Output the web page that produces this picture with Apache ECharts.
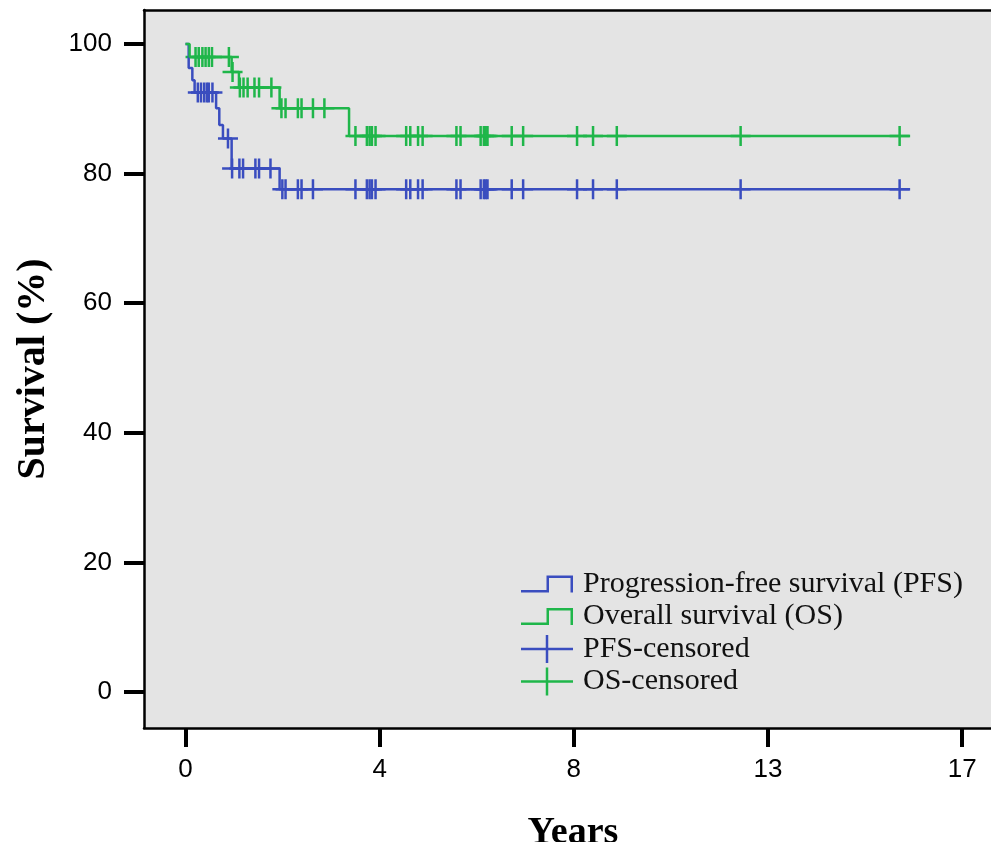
<!DOCTYPE html>
<html>
<head>
<meta charset="utf-8">
<title>Survival</title>
<script src="https://cdn.jsdelivr.net/npm/echarts@6/dist/echarts.min.js"></script>
<style>
  html, body { margin: 0; padding: 0; background: #fff; }
  #chart { width: 991px; height: 842px; }
</style>
</head>
<body>
<div id="chart"></div>
<script>
// Kaplan-Meier steps (years, survival %)
var pfsTimes = [0, 0.07, 0.15, 0.20, 0.67, 0.74, 0.82, 1.01, 2.06];
var pfsSurv  = [100, 96.3, 94.4, 92.5, 90.1, 87.5, 85.4, 80.8, 77.6];
var osTimes  = [0, 0.09, 1.01, 1.17, 2.06, 3.58];
var osSurv   = [100, 98.0, 95.7, 93.3, 90.1, 85.8];
var followUpEnd = 15.86;

// censored patients (years)
var lateCensored = [3.72, 3.97, 4.03, 4.08, 4.16, 4.83, 4.92, 5.09, 5.19, 5.93, 6.02,
                    6.46, 6.53, 6.57, 6.61, 7.14, 7.39, 8.57, 8.92, 9.44, 12.15, 15.63];
var pfsCensored = [0.27, 0.34, 0.41, 0.47, 0.51, 0.59, 0.93, 1.02, 1.18, 1.26, 1.53,
                   1.61, 1.86, 2.12, 2.19, 2.46, 2.54, 2.79].concat(lateCensored);
var osCensored  = [0.22, 0.29, 0.37, 0.44, 0.51, 0.58, 0.95, 1.03, 1.19, 1.27, 1.36,
                   1.51, 1.61, 1.88, 2.10, 2.19, 2.46, 2.54, 2.79, 3.04].concat(lateCensored);

// axis ticks
var xTickValues = [0, 4.25, 8.5, 12.75, 17];
var xTickLabels = ['0', '4', '8', '13', '17'];
var yTickValues = [0, 20, 40, 60, 80, 100];

var blue = '#3a4dbf', green = '#1fb64a';

var plusPath = 'path://M0,8.75L8.75,8.75L8.75,0L11.25,0L11.25,8.75L20,8.75L20,11.25L11.25,11.25L11.25,20L8.75,20L8.75,11.25L0,11.25Z';
var legendPlus = 'path://M0,12.75L24.75,12.75L24.75,0L27.25,0L27.25,12.75L52,12.75L52,15.25L27.25,15.25L27.25,28L24.75,28L24.75,15.25L0,15.25Z';
var legendStep = 'path://M0,14.5L25.5,14.5L25.5,0L52,0L52,17L49.5,17L49.5,2.5L28,2.5L28,17L0,17Z';

function buildSteps(times, surv, end) {
  var pts = [];
  for (var i = 0; i < times.length; i++) pts.push([times[i], surv[i]]);
  pts.push([end, surv[surv.length - 1]]);
  return pts;
}
function levelAt(times, surv, t) {
  var v = surv[0];
  for (var i = 0; i < times.length; i++) if (times[i] <= t) v = surv[i];
  return v;
}
function censorPoints(cens, times, surv) {
  return cens.map(function (t) { return [t, levelAt(times, surv, t)]; });
}

var frameLine = { show: true, onZero: false, lineStyle: { color: '#000', width: 2.5 } };
var sansFont = 'Liberation Sans, Arial, sans-serif';
var serifFont = 'Liberation Serif, Times New Roman, serif';

var chart = echarts.init(document.getElementById('chart'));
var option = {
  animation: false,
  backgroundColor: '#fff',
  grid: {
    left: 144, top: 10, right: 0, height: 718,
    outerBoundsMode: 'none',
    show: true, backgroundColor: '#e4e4e4', borderWidth: 0
  },
  xAxis: [{
    type: 'value', min: -0.908, max: 17.63, position: 'bottom',
    splitLine: { show: false },
    axisLine: frameLine,
    axisTick: { show: true, customValues: xTickValues, length: 19, lineStyle: { color: '#000', width: 4 } },
    axisLabel: {
      customValues: xTickValues, margin: 29, color: '#000', fontSize: 26, fontFamily: sansFont,
      formatter: function (v) { return xTickLabels[xTickValues.indexOf(v)]; }
    },
    name: 'Years', nameLocation: 'middle', nameGap: 86,
    nameTextStyle: { fontFamily: serifFont, fontWeight: 'bold', fontSize: 38, color: '#000', padding: [0, 0, 0, 11] }
  }, {
    type: 'value', min: -0.908, max: 17.63, position: 'top',
    splitLine: { show: false }, axisLine: frameLine,
    axisTick: { show: false }, axisLabel: { show: false }
  }],
  yAxis: {
    type: 'value', min: -5.56, max: 105.25,
    splitLine: { show: false },
    axisLine: frameLine,
    axisTick: { show: true, customValues: yTickValues, length: 20, lineStyle: { color: '#000', width: 4 } },
    axisLabel: { customValues: yTickValues, margin: 32, color: '#000', fontSize: 26, fontFamily: sansFont },
    name: 'Survival (%)', nameLocation: 'middle', nameGap: 90, nameRotate: 90,
    nameTextStyle: { fontFamily: serifFont, fontWeight: 'bold', fontSize: 40, color: '#000' }
  },
  legend: {
    orient: 'vertical', left: 516, top: 564,
    itemWidth: 52, itemHeight: 28, itemGap: 2.5,
    textStyle: { fontFamily: serifFont, fontSize: 30, color: '#111', lineHeight: 28, padding: [0, 0, 0, 5] },
    data: [
      { name: 'Progression-free survival (PFS)', icon: legendStep },
      { name: 'Overall survival (OS)', icon: legendStep },
      { name: 'PFS-censored', icon: legendPlus },
      { name: 'OS-censored', icon: legendPlus }
    ]
  },
  series: [
    {
      name: 'Progression-free survival (PFS)', type: 'line', step: 'end',
      symbol: 'none', color: blue, lineStyle: { color: blue, width: 2.5 },
      data: buildSteps(pfsTimes, pfsSurv, followUpEnd)
    },
    {
      name: 'PFS-censored', type: 'scatter', symbol: plusPath, symbolSize: 20,
      color: blue, itemStyle: { color: blue, opacity: 1 },
      data: censorPoints(pfsCensored, pfsTimes, pfsSurv)
    },
    {
      name: 'Overall survival (OS)', type: 'line', step: 'end',
      symbol: 'none', color: green, lineStyle: { color: green, width: 2.5 },
      data: buildSteps(osTimes, osSurv, followUpEnd)
    },
    {
      name: 'OS-censored', type: 'scatter', symbol: plusPath, symbolSize: 20,
      color: green, itemStyle: { color: green, opacity: 1 },
      data: censorPoints(osCensored, osTimes, osSurv)
    }
  ]
};
chart.setOption(option);
</script>
</body>
</html>
